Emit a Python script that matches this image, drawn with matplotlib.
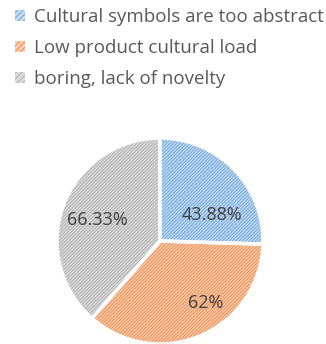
import matplotlib.pyplot as plt
from matplotlib.patches import Patch

# data
labels = ['Cultural symbols are too abstract', 'Low product cultural load', 'boring, lack of novelty']
values = [43.88, 62, 66.33]
value_text = ['43.88%', '62%', '66.33%']

face_colors = ['#c5dcf1', '#f9cfb3', '#dcdcdc']
hatch_colors = ['#6fa6da', '#f08a48', '#b0b0b0']

plt.rcParams['font.family'] = ['Open Sans', 'DejaVu Sans']
plt.rcParams['hatch.linewidth'] = 0.7

fig = plt.figure(figsize=(3.26, 3.44), dpi=100)
# pie centre ~ (160, 241) px, radius ~103 px
r_w, r_h = 103 / 326, 103 / 344
ax = fig.add_axes([160 / 326 - r_w, 1 - 241 / 344 - r_h, 2 * r_w, 2 * r_h])

# hatched fill
wedges, _ = ax.pie(values, startangle=90, counterclock=False, radius=1.0,
                   colors=face_colors, wedgeprops=dict(linewidth=0))
for w, hc in zip(wedges, hatch_colors):
    w.set_hatch('//////////')
    w.set_edgecolor(hc)
    w.set_linewidth(0)

# white borders on top
ax.pie(values, startangle=90, counterclock=False, radius=1.0,
       wedgeprops=dict(fill=False, edgecolor='white', linewidth=2.5))

# label placement (in pie radii), like Excel's best-fit labels
label_pos = [(0.50, 0.25), (0.44, -0.60), (-0.61, 0.20)]
for (x, y), txt in zip(label_pos, value_text):
    ax.text(x, y, txt, ha='center', va='center', fontsize=13, color='#404040')
ax.set_xlim(-1, 1)
ax.set_ylim(-1, 1)
ax.set_aspect('equal')
ax.axis('off')

handles = [Patch(facecolor=fc, edgecolor=hc, hatch='//////', linewidth=0)
           for fc, hc in zip(face_colors, hatch_colors)]
fig.legend(handles, labels, loc='upper left', bbox_to_anchor=(0.01, 1.01),
           frameon=False, fontsize=13.5, labelcolor='#595959',
           handlelength=0.55, handleheight=0.55, handletextpad=0.5,
           labelspacing=0.7, borderaxespad=0.2)

fig.savefig('out.png', dpi=100)
